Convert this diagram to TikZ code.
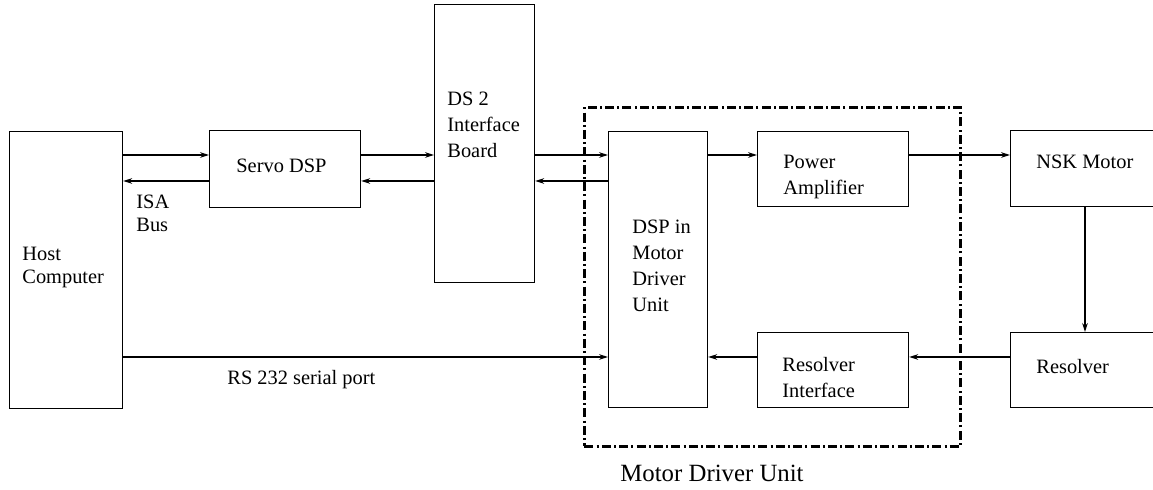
\documentclass[tikz,border=0pt]{standalone}
\usepackage{fontspec}
\setmainfont{Liberation Serif}
\usetikzlibrary{arrows.meta}
\begin{document}
\begin{tikzpicture}[x=0.5pt,y=-0.5pt,
  box/.style={draw, line width=0.6pt, rectangle, inner sep=0pt, anchor=north west},
  unitbox/.style={draw, line width=1.4pt, rectangle, inner sep=0pt, anchor=north west,
    dash pattern=on 4.5pt off 1.6pt on 1pt off 1.6pt},
  lbl/.style={inner sep=0pt, anchor=north west, align=left, font=\fontsize{10.2}{13}\selectfont},
  lbltight/.style={lbl, font=\fontsize{10.2}{11.5}\selectfont},
  arr/.style={line width=0.6pt, -{Stealth[length=4.5pt,width=2.8pt]}},
]
\useasboundingbox (0,0) rectangle (1153,490);
\fill[white] (0,0) rectangle (1153,490);
\clip (0,0) rectangle (1153,490);

% boxes
\node[box, minimum width=56.5pt, minimum height=138.5pt] (host) at (9,131) {};
\node[box, minimum width=75.5pt, minimum height=38.5pt] (servo) at (209,130) {};
\node[box, minimum width=50pt, minimum height=139pt] (ds2) at (434,4) {};
\node[box, minimum width=49.5pt, minimum height=138pt] (dsp) at (608,131) {};
\node[box, minimum width=75.5pt, minimum height=37.5pt] (pa) at (757,131) {};
\node[box, minimum width=75.5pt, minimum height=37.5pt] (ri) at (757,332) {};
\node[box, minimum width=80pt, minimum height=38pt] (nsk) at (1010,130) {};
\node[box, minimum width=80pt, minimum height=37.5pt] (res) at (1010,332) {};
\node[unitbox, minimum width=188pt, minimum height=169.5pt] (mdu) at (583,106) {};

% rows
\coordinate (ya) at (0,155);
\coordinate (yb) at (0,181);
\coordinate (yc) at (0,357);
\coordinate (xv) at (1085,0);

% connectors
\draw[arr] (host.east |- ya) -- (servo.west |- ya);
\draw[arr] (servo.west |- yb) -- (host.east |- yb);
\draw[arr] (servo.east |- ya) -- (ds2.west |- ya);
\draw[arr] (ds2.west |- yb) -- (servo.east |- yb);
\draw[arr] (ds2.east |- ya) -- (dsp.west |- ya);
\draw[arr] (dsp.west |- yb) -- (ds2.east |- yb);
\draw[arr] (dsp.east |- ya) -- (pa.west |- ya);
\draw[arr] (pa.east |- ya) -- (nsk.west |- ya);
\draw[arr] (nsk.south -| xv) -- (res.north -| xv);
\draw[arr] (res.west |- yc) -- (ri.east |- yc);
\draw[arr] (ri.west |- yc) -- (dsp.east |- yc);
\draw[arr] (host.east |- yc) -- (dsp.west |- yc);

% labels
\node[lbl] (tservo) at (236,159) {Servo DSP};
\node[lbltight] (tisa) at (136,195) {ISA\\Bus};
\node[lbltight] (thost) at (22,247) {Host\\Computer};
\node[lbl] (tds2) at (447,92) {DS 2\\Interface\\Board};
\node[lbl] (tdsp) at (632,220) {DSP in\\Motor\\Driver\\Unit};
\node[lbl] (tpa) at (783,155) {Power\\Amplifier};
\node[lbl] (tri) at (782,357) {Resolver\\Interface};
\node[lbl] (tnsk) at (1036,155) {NSK Motor};
\node[lbl] (tres) at (1036,359) {Resolver};
\node[lbl] (trs) at (227,370) {RS 232 serial port};
\node[lbl, font=\fontsize{12.4}{15}\selectfont] (tmdu) at (620,465) {Motor Driver Unit};
\end{tikzpicture}
\end{document}
